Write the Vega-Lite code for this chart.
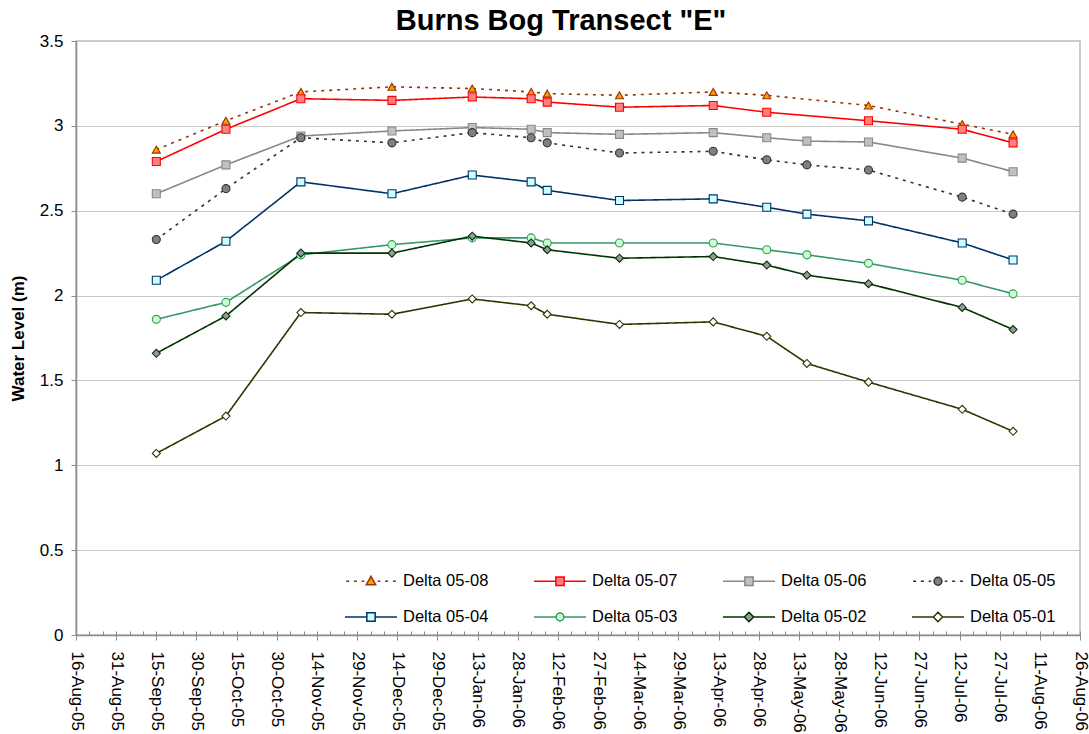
{
  "$schema": "https://vega.github.io/schema/vega-lite/v6.json",
  "description": "Burns Bog Transect E water levels",
  "autosize": {"type": "none"},
  "padding": {"left": 76, "top": 41, "right": 9, "bottom": 99},
  "width": 1004,
  "height": 594,
  "title": {
    "text": "Burns Bog Transect \"E\"",
    "font": "Liberation Sans",
    "fontSize": 29,
    "fontWeight": "bold",
    "color": "black",
    "anchor": "middle",
    "frame": "group",
    "offset": -4,
    "dx": -17
  },
  "data": {
    "values": [
      {"date": "2005-09-15", "series": "Delta 05-08", "level": 2.86},
      {"date": "2005-10-11", "series": "Delta 05-08", "level": 3.03},
      {"date": "2005-11-08", "series": "Delta 05-08", "level": 3.2},
      {"date": "2005-12-12", "series": "Delta 05-08", "level": 3.23},
      {"date": "2006-01-11", "series": "Delta 05-08", "level": 3.22},
      {"date": "2006-02-02", "series": "Delta 05-08", "level": 3.2},
      {"date": "2006-02-08", "series": "Delta 05-08", "level": 3.19},
      {"date": "2006-03-07", "series": "Delta 05-08", "level": 3.18},
      {"date": "2006-04-11", "series": "Delta 05-08", "level": 3.2},
      {"date": "2006-05-01", "series": "Delta 05-08", "level": 3.18},
      {"date": "2006-06-08", "series": "Delta 05-08", "level": 3.12},
      {"date": "2006-07-13", "series": "Delta 05-08", "level": 3.01},
      {"date": "2006-08-01", "series": "Delta 05-08", "level": 2.95},

      {"date": "2005-09-15", "series": "Delta 05-07", "level": 2.79},
      {"date": "2005-10-11", "series": "Delta 05-07", "level": 2.98},
      {"date": "2005-11-08", "series": "Delta 05-07", "level": 3.16},
      {"date": "2005-12-12", "series": "Delta 05-07", "level": 3.15},
      {"date": "2006-01-11", "series": "Delta 05-07", "level": 3.17},
      {"date": "2006-02-02", "series": "Delta 05-07", "level": 3.16},
      {"date": "2006-02-08", "series": "Delta 05-07", "level": 3.14},
      {"date": "2006-03-07", "series": "Delta 05-07", "level": 3.11},
      {"date": "2006-04-11", "series": "Delta 05-07", "level": 3.12},
      {"date": "2006-05-01", "series": "Delta 05-07", "level": 3.08},
      {"date": "2006-06-08", "series": "Delta 05-07", "level": 3.03},
      {"date": "2006-07-13", "series": "Delta 05-07", "level": 2.98},
      {"date": "2006-08-01", "series": "Delta 05-07", "level": 2.9},

      {"date": "2005-09-15", "series": "Delta 05-06", "level": 2.6},
      {"date": "2005-10-11", "series": "Delta 05-06", "level": 2.77},
      {"date": "2005-11-08", "series": "Delta 05-06", "level": 2.94},
      {"date": "2005-12-12", "series": "Delta 05-06", "level": 2.97},
      {"date": "2006-01-11", "series": "Delta 05-06", "level": 2.99},
      {"date": "2006-02-02", "series": "Delta 05-06", "level": 2.98},
      {"date": "2006-02-08", "series": "Delta 05-06", "level": 2.96},
      {"date": "2006-03-07", "series": "Delta 05-06", "level": 2.95},
      {"date": "2006-04-11", "series": "Delta 05-06", "level": 2.96},
      {"date": "2006-05-01", "series": "Delta 05-06", "level": 2.93},
      {"date": "2006-05-16", "series": "Delta 05-06", "level": 2.91},
      {"date": "2006-06-08", "series": "Delta 05-06", "level": 2.905},
      {"date": "2006-07-13", "series": "Delta 05-06", "level": 2.81},
      {"date": "2006-08-01", "series": "Delta 05-06", "level": 2.73},

      {"date": "2005-09-15", "series": "Delta 05-05", "level": 2.33},
      {"date": "2005-10-11", "series": "Delta 05-05", "level": 2.63},
      {"date": "2005-11-08", "series": "Delta 05-05", "level": 2.93},
      {"date": "2005-12-12", "series": "Delta 05-05", "level": 2.9},
      {"date": "2006-01-11", "series": "Delta 05-05", "level": 2.96},
      {"date": "2006-02-02", "series": "Delta 05-05", "level": 2.93},
      {"date": "2006-02-08", "series": "Delta 05-05", "level": 2.9},
      {"date": "2006-03-07", "series": "Delta 05-05", "level": 2.84},
      {"date": "2006-04-11", "series": "Delta 05-05", "level": 2.85},
      {"date": "2006-05-01", "series": "Delta 05-05", "level": 2.8},
      {"date": "2006-05-16", "series": "Delta 05-05", "level": 2.77},
      {"date": "2006-06-08", "series": "Delta 05-05", "level": 2.74},
      {"date": "2006-07-13", "series": "Delta 05-05", "level": 2.58},
      {"date": "2006-08-01", "series": "Delta 05-05", "level": 2.48},

      {"date": "2005-09-15", "series": "Delta 05-04", "level": 2.09},
      {"date": "2005-10-11", "series": "Delta 05-04", "level": 2.32},
      {"date": "2005-11-08", "series": "Delta 05-04", "level": 2.67},
      {"date": "2005-12-12", "series": "Delta 05-04", "level": 2.6},
      {"date": "2006-01-11", "series": "Delta 05-04", "level": 2.71},
      {"date": "2006-02-02", "series": "Delta 05-04", "level": 2.67},
      {"date": "2006-02-08", "series": "Delta 05-04", "level": 2.62},
      {"date": "2006-03-07", "series": "Delta 05-04", "level": 2.56},
      {"date": "2006-04-11", "series": "Delta 05-04", "level": 2.57},
      {"date": "2006-05-01", "series": "Delta 05-04", "level": 2.52},
      {"date": "2006-05-16", "series": "Delta 05-04", "level": 2.48},
      {"date": "2006-06-08", "series": "Delta 05-04", "level": 2.44},
      {"date": "2006-07-13", "series": "Delta 05-04", "level": 2.31},
      {"date": "2006-08-01", "series": "Delta 05-04", "level": 2.21},

      {"date": "2005-09-15", "series": "Delta 05-03", "level": 1.86},
      {"date": "2005-10-11", "series": "Delta 05-03", "level": 1.96},
      {"date": "2005-11-08", "series": "Delta 05-03", "level": 2.24},
      {"date": "2005-12-12", "series": "Delta 05-03", "level": 2.3},
      {"date": "2006-01-11", "series": "Delta 05-03", "level": 2.34},
      {"date": "2006-02-02", "series": "Delta 05-03", "level": 2.34},
      {"date": "2006-02-08", "series": "Delta 05-03", "level": 2.31},
      {"date": "2006-03-07", "series": "Delta 05-03", "level": 2.31},
      {"date": "2006-04-11", "series": "Delta 05-03", "level": 2.31},
      {"date": "2006-05-01", "series": "Delta 05-03", "level": 2.27},
      {"date": "2006-05-16", "series": "Delta 05-03", "level": 2.24},
      {"date": "2006-06-08", "series": "Delta 05-03", "level": 2.19},
      {"date": "2006-07-13", "series": "Delta 05-03", "level": 2.09},
      {"date": "2006-08-01", "series": "Delta 05-03", "level": 2.01},

      {"date": "2005-09-15", "series": "Delta 05-02", "level": 1.66},
      {"date": "2005-10-11", "series": "Delta 05-02", "level": 1.88},
      {"date": "2005-11-08", "series": "Delta 05-02", "level": 2.25},
      {"date": "2005-12-12", "series": "Delta 05-02", "level": 2.25},
      {"date": "2006-01-11", "series": "Delta 05-02", "level": 2.35},
      {"date": "2006-02-02", "series": "Delta 05-02", "level": 2.31},
      {"date": "2006-02-08", "series": "Delta 05-02", "level": 2.27},
      {"date": "2006-03-07", "series": "Delta 05-02", "level": 2.22},
      {"date": "2006-04-11", "series": "Delta 05-02", "level": 2.23},
      {"date": "2006-05-01", "series": "Delta 05-02", "level": 2.18},
      {"date": "2006-05-16", "series": "Delta 05-02", "level": 2.12},
      {"date": "2006-06-08", "series": "Delta 05-02", "level": 2.07},
      {"date": "2006-07-13", "series": "Delta 05-02", "level": 1.93},
      {"date": "2006-08-01", "series": "Delta 05-02", "level": 1.8},

      {"date": "2005-09-15", "series": "Delta 05-01", "level": 1.07},
      {"date": "2005-10-11", "series": "Delta 05-01", "level": 1.29},
      {"date": "2005-11-08", "series": "Delta 05-01", "level": 1.9},
      {"date": "2005-12-12", "series": "Delta 05-01", "level": 1.89},
      {"date": "2006-01-11", "series": "Delta 05-01", "level": 1.98},
      {"date": "2006-02-02", "series": "Delta 05-01", "level": 1.94},
      {"date": "2006-02-08", "series": "Delta 05-01", "level": 1.89},
      {"date": "2006-03-07", "series": "Delta 05-01", "level": 1.83},
      {"date": "2006-04-11", "series": "Delta 05-01", "level": 1.845},
      {"date": "2006-05-01", "series": "Delta 05-01", "level": 1.76},
      {"date": "2006-05-16", "series": "Delta 05-01", "level": 1.6},
      {"date": "2006-06-08", "series": "Delta 05-01", "level": 1.49},
      {"date": "2006-07-13", "series": "Delta 05-01", "level": 1.33},
      {"date": "2006-08-01", "series": "Delta 05-01", "level": 1.2}
    ]
  },
  "layer": [
    {
      "mark": {"type": "line", "strokeWidth": 1.6},
      "encoding": {
        "x": {
          "field": "date",
          "type": "temporal",
          "scale": {"type": "utc", "domain": [1124150400000, 1156550400000]},
          "axis": {
            "title": null,
            "grid": false,
            "values": [1124150400000, 1125446400000, 1126742400000, 1128038400000, 1129334400000, 1130630400000, 1131926400000, 1133222400000, 1134518400000, 1135814400000, 1137110400000, 1138406400000, 1139702400000, 1140998400000, 1142294400000, 1143590400000, 1144886400000, 1146182400000, 1147478400000, 1148774400000, 1150070400000, 1151366400000, 1152662400000, 1153958400000, 1155254400000, 1156550400000],
            "format": "%d-%b-%y",
            "labelAngle": 90,
            "labelAlign": "left",
            "labelBaseline": "middle",
            "labelPadding": 11,
            "labelOverlap": false,
            "labelFlush": false,
            "tickSize": 5
          }
        },
        "y": {
          "field": "level",
          "type": "quantitative",
          "scale": {"domain": [0, 3.5], "nice": false},
          "axis": {
            "title": "Water Level (m)",
            "values": [0, 0.5, 1, 1.5, 2, 2.5, 3, 3.5],
            "format": "~g",
            "tickSize": 5,
            "labelPadding": 8,
            "grid": true,
            "titleX": -58,
            "titleY": 297,
            "titleAngle": -90,
            "titleAlign": "center",
            "titleBaseline": "middle"
          }
        },
        "stroke": {
          "field": "series",
          "type": "nominal",
          "scale": {
            "domain": ["Delta 05-08", "Delta 05-07", "Delta 05-06", "Delta 05-05", "Delta 05-04", "Delta 05-03", "Delta 05-02", "Delta 05-01"],
            "range": ["#993300", "#FF0000", "#888888", "#333333", "#003366", "#339966", "#003300", "#333300"]
          }
        },
        "strokeDash": {
          "field": "series",
          "type": "nominal",
          "scale": {
            "domain": ["Delta 05-01", "Delta 05-02", "Delta 05-03", "Delta 05-04", "Delta 05-05", "Delta 05-06", "Delta 05-07", "Delta 05-08"],
            "range": [[1, 0], [1, 0], [1, 0], [1, 0], [3, 5], [1, 0], [1, 0], [3, 5]]
          },
          "legend": null
        }
      }
    },
    {
      "mark": {"type": "point", "filled": true, "size": 64, "opacity": 1, "strokeWidth": 1.1},
      "encoding": {
        "x": {
          "field": "date",
          "type": "temporal",
          "axis": {
            "title": null,
            "orient": "top",
            "offset": -594,
            "grid": false,
            "labels": false,
            "domain": false,
            "tickSize": 4,
            "values": [1124150400000, 1124582400000, 1125014400000, 1125446400000, 1125878400000, 1126310400000, 1126742400000, 1127174400000, 1127606400000, 1128038400000, 1128470400000, 1128902400000, 1129334400000, 1129766400000, 1130198400000, 1130630400000, 1131062400000, 1131494400000, 1131926400000, 1132358400000, 1132790400000, 1133222400000, 1133654400000, 1134086400000, 1134518400000, 1134950400000, 1135382400000, 1135814400000, 1136246400000, 1136678400000, 1137110400000, 1137542400000, 1137974400000, 1138406400000, 1138838400000, 1139270400000, 1139702400000, 1140134400000, 1140566400000, 1140998400000, 1141430400000, 1141862400000, 1142294400000, 1142726400000, 1143158400000, 1143590400000, 1144022400000, 1144454400000, 1144886400000, 1145318400000, 1145750400000, 1146182400000, 1146614400000, 1147046400000, 1147478400000, 1147910400000, 1148342400000, 1148774400000, 1149206400000, 1149638400000, 1150070400000, 1150502400000, 1150934400000, 1151366400000, 1151798400000, 1152230400000, 1152662400000, 1153094400000, 1153526400000, 1153958400000, 1154390400000, 1154822400000, 1155254400000, 1155686400000, 1156118400000, 1156550400000]
          }
        },
        "y": {"field": "level", "type": "quantitative"},
        "stroke": {"field": "series", "type": "nominal"},
        "shape": {
          "field": "series",
          "type": "nominal",
          "scale": {
            "domain": ["Delta 05-01", "Delta 05-02", "Delta 05-03", "Delta 05-04", "Delta 05-05", "Delta 05-06", "Delta 05-07", "Delta 05-08"],
            "range": ["diamond", "diamond", "circle", "square", "circle", "square", "square", "triangle-up"]
          },
          "legend": null
        },
        "fill": {
          "field": "series",
          "type": "nominal",
          "scale": {
            "domain": ["Delta 05-08", "Delta 05-07", "Delta 05-06", "Delta 05-05", "Delta 05-04", "Delta 05-03", "Delta 05-02", "Delta 05-01"],
            "range": ["#FF9900", "#FF8080", "#C0C0C0", "#808080", "#CCFFFF", "#CCFFCC", "#999999", "#FFFFFF"]
          },
          "legend": {
            "title": null,
            "orient": "none",
            "legendX": 268,
            "legendY": 513,
            "direction": "horizontal",
            "columns": 4,
            "columnPadding": 42,
            "rowPadding": -8,
            "padding": 0,
            "symbolSize": 2704,
            "symbolStrokeWidth": 1.5,
            "symbolType": {"expr": "['M-0.96,0H-0.84M-0.66,0H-0.54M-0.36,0H-0.26M0.26,0H0.36M0.54,0H0.66M0.84,0H0.96M0,-0.19L0.18,0.13L-0.18,0.13Z', 'M-1,0H-0.16M0.16,0H1M-0.16,-0.16H0.16V0.16H-0.16Z', 'M-1,0H-0.16M0.16,0H1M-0.16,-0.16H0.16V0.16H-0.16Z', 'M-0.96,0H-0.84M-0.66,0H-0.54M-0.36,0H-0.26M0.26,0H0.36M0.54,0H0.66M0.84,0H0.96M-0.15,0A0.15,0.15,0,1,1,0.15,0A0.15,0.15,0,1,1,-0.15,0Z', 'M-1,0H-0.16M0.16,0H1M-0.16,-0.16H0.16V0.16H-0.16Z', 'M-1,0H-0.15M0.15,0H1M-0.15,0A0.15,0.15,0,1,1,0.15,0A0.15,0.15,0,1,1,-0.15,0Z', 'M-1,0H-0.18M0.18,0H1M0,-0.18L0.18,0L0,0.18L-0.18,0Z', 'M-1,0H-0.18M0.18,0H1M0,-0.18L0.18,0L0,0.18L-0.18,0Z'][indexof(['Delta 05-08','Delta 05-07','Delta 05-06','Delta 05-05','Delta 05-04','Delta 05-03','Delta 05-02','Delta 05-01'], datum.value)]"},
            "labelOffset": 5,
            "labelFont": "Liberation Sans",
            "labelFontSize": 16.5,
            "labelColor": "black",
            "labelLimit": 0
          }
        }
      }
    }
  ],
  "resolve": {"axis": {"x": "independent"}},
  "config": {
    "background": "white",
    "font": "Liberation Sans",
    "view": {"stroke": "#bdbdbd", "strokeWidth": 1.5},
    "axis": {
      "labelFont": "Liberation Sans",
      "labelFontSize": 17,
      "labelColor": "black",
      "titleFont": "Liberation Sans",
      "titleFontSize": 17,
      "titleFontWeight": "bold",
      "titleColor": "black",
      "domainColor": "#8c8c8c",
      "domainWidth": 1.6,
      "tickColor": "#8c8c8c",
      "tickWidth": 1,
      "gridColor": "#c8c8c8",
      "gridWidth": 1
    }
  }
}
